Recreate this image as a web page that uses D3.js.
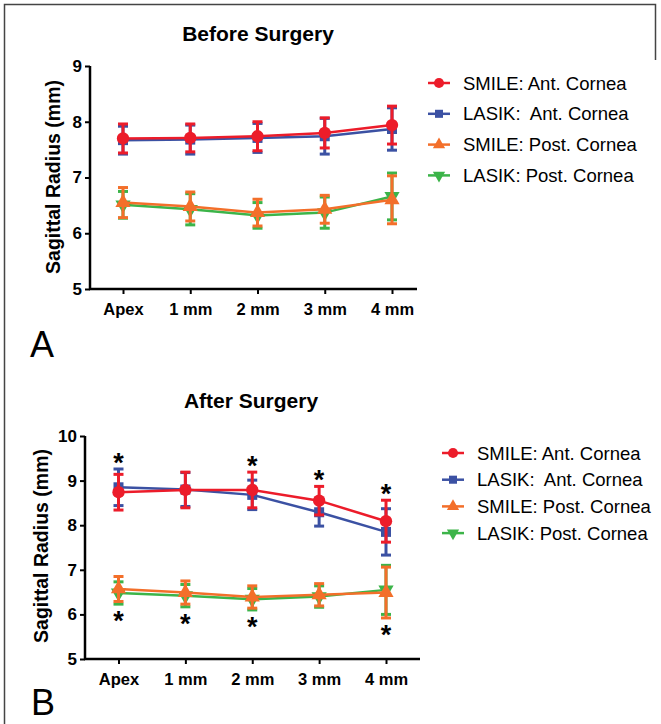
<!DOCTYPE html>
<html>
<head>
  <meta charset="utf-8">
  <title>Sagittal Radius</title>
  <style>
    body { margin: 0; background: #fff; }
    svg text { font-family: "Liberation Sans", Arial, sans-serif; }
  </style>
</head>
<body>
<script src="https://cdnjs.cloudflare.com/ajax/libs/d3/7.8.5/d3.min.js"></script>
<script>
var w = 661, h = 724;

var categories = ["Apex", "1 mm", "2 mm", "3 mm", "4 mm"];
var seriesNames = ["SMILE: Ant. Cornea", "LASIK:  Ant. Cornea", "SMILE: Post. Cornea", "LASIK: Post. Cornea"];

// before surgery: means and error bars
var smileAntBefore   = [7.70, 7.71, 7.74, 7.80, 7.94];
var smileAntBeforeE  = [0.26, 0.25, 0.26, 0.27, 0.34];
var lasikAntBefore   = [7.67, 7.68, 7.71, 7.74, 7.87];
var lasikAntBeforeE  = [0.25, 0.26, 0.26, 0.32, 0.38];
var smilePostBefore  = [6.55, 6.48, 6.37, 6.43, 6.60];
var smilePostBeforeE = [0.27, 0.26, 0.24, 0.25, 0.43];
var lasikPostBefore  = [6.51, 6.43, 6.32, 6.37, 6.66];
var lasikPostBeforeE = [0.24, 0.28, 0.23, 0.28, 0.42];

// after surgery
var smileAntAfter   = [8.74, 8.79, 8.79, 8.55, 8.09];
var smileAntAfterE  = [0.40, 0.40, 0.40, 0.32, 0.47];
var lasikAntAfter   = [8.85, 8.80, 8.68, 8.29, 7.85];
var lasikAntAfterE  = [0.41, 0.38, 0.33, 0.31, 0.52];
var smilePostAfter  = [6.57, 6.49, 6.39, 6.44, 6.49];
var smilePostAfterE = [0.28, 0.26, 0.25, 0.25, 0.57];
var lasikPostAfter  = [6.48, 6.42, 6.34, 6.40, 6.55];
var lasikPostAfterE = [0.25, 0.25, 0.24, 0.24, 0.55];

// significance stars (1 = star) for anterior (above) and posterior (below)
var starsAntAfter  = [1, 0, 1, 1, 1];
var starsPostAfter = [1, 1, 1, 0, 1];

var yTicksBefore = [5, 6, 7, 8, 9];
var yTicksAfter  = [5, 6, 7, 8, 9, 10];

var colors = ["#ec1c2a", "#3b51a3", "#f36f2a", "#3cb449"];
var symbols = [d3.symbolCircle, d3.symbolSquare, d3.symbolTriangle, d3.symbolTriangle];
var drawOrder = [3, 1, 2, 0]; // red and orange sit on top

var svg = d3.select("body").append("svg")
  .attr("width", w)
  .attr("height", h);

// frame of the figure
svg.append("path")
  .attr("d", "M4.5," + h + "V4.5H655.5V60")
  .attr("fill", "none")
  .attr("stroke", "#444")
  .attr("stroke-width", 1.5);

function markerPath(i, size) {
  return d3.symbol().type(symbols[i]).size(size)();
}

function drawPanel(p) {
  var g = svg.append("g");
  var x = d3.scalePoint().domain(categories).range(p.xRange);
  var y = d3.scaleLinear().domain(p.yDomain).range(p.yRange);

  // title
  g.append("text")
    .attr("x", p.titleX).attr("y", p.titleY)
    .attr("text-anchor", "middle")
    .attr("font-size", 21).attr("font-weight", "bold")
    .text(p.title);

  // y axis
  var yAxis = g.append("g")
    .attr("transform", "translate(" + p.axisX + ",0)")
    .call(d3.axisLeft(y).tickValues(p.yTicks).tickSize(5).tickPadding(3).tickFormat(d3.format("d")));
  yAxis.select(".domain").attr("stroke-width", 2.5).attr("d", "M0," + p.yRange[0] + "V" + p.yRange[1]);
  yAxis.selectAll(".tick line").attr("stroke-width", 2);
  yAxis.selectAll(".tick text")
    .attr("font-size", 17).attr("font-weight", "bold").attr("fill", "#000")
    .attr("font-family", "'Liberation Sans', Arial, sans-serif");

  // x axis
  var xAxis = g.append("g")
    .attr("transform", "translate(0," + p.yRange[0] + ")")
    .call(d3.axisBottom(x).tickSize(5).tickPadding(9));
  xAxis.select(".domain").attr("stroke-width", 2.5).attr("d", "M" + (p.axisX - 1) + ",0H" + p.axisEnd);
  xAxis.selectAll(".tick line").attr("stroke-width", 2);
  xAxis.selectAll(".tick text")
    .attr("font-size", 16.5).attr("font-weight", "bold").attr("fill", "#000")
    .attr("font-family", "'Liberation Sans', Arial, sans-serif");

  // y label
  g.append("text")
    .attr("transform", "translate(" + p.labelX + "," + p.labelY + ") rotate(-90)")
    .attr("text-anchor", "middle")
    .attr("font-size", 19.5).attr("font-weight", "bold")
    .text("Sagittal Radius (mm)");

  // series
  var line = d3.line()
    .x(function(d, i) { return x(categories[i]); })
    .y(function(d) { return y(d); });

  drawOrder.forEach(function(s) {
    var vals = p.values[s], errs = p.errors[s];
    var sg = g.append("g").attr("stroke", colors[s]).attr("fill", colors[s]);

    sg.append("path").datum(vals)
      .attr("d", line).attr("fill", "none").attr("stroke-width", 2.5);

    var bars = sg.selectAll(".err").data(vals).enter().append("g");
    bars.append("line")
      .attr("x1", function(d, i) { return x(categories[i]); })
      .attr("x2", function(d, i) { return x(categories[i]); })
      .attr("y1", function(d, i) { return y(d + errs[i]); })
      .attr("y2", function(d, i) { return y(d - errs[i]); })
      .attr("stroke-width", 3);
    [1, -1].forEach(function(sign) {
      bars.append("line")
        .attr("x1", function(d, i) { return x(categories[i]) - 5; })
        .attr("x2", function(d, i) { return x(categories[i]) + 5; })
        .attr("y1", function(d, i) { return y(d + sign * errs[i]); })
        .attr("y2", function(d, i) { return y(d + sign * errs[i]); })
        .attr("stroke-width", 3);
    });

    sg.selectAll(".pt").data(vals).enter().append("path")
      .attr("d", markerPath(s, s == 0 ? 120 : 100))
      .attr("stroke", "none")
      .attr("transform", function(d, i) {
        return "translate(" + x(categories[i]) + "," + y(d) + ")" + (s == 3 ? " rotate(180)" : "");
      });
  });

  // asterisks, centred about 11px beyond the outer error bar
  if (p.starsAbove) {
    categories.forEach(function(c, i) {
      if (!p.starsAbove[i]) return;
      var top = Math.max(p.values[0][i] + p.errors[0][i], p.values[1][i] + p.errors[1][i]);
      g.append("text").attr("x", x(c)).attr("y", y(top) - 12 + 15)
        .attr("text-anchor", "middle").attr("font-size", 27).attr("font-weight", "bold").text("*");
    });
    categories.forEach(function(c, i) {
      if (!p.starsBelow[i]) return;
      var bot = Math.min(p.values[2][i] - p.errors[2][i], p.values[3][i] - p.errors[3][i]);
      g.append("text").attr("x", x(c)).attr("y", y(bot) + 11 + 15)
        .attr("text-anchor", "middle").attr("font-size", 27).attr("font-weight", "bold").text("*");
    });
  }

  // legend
  var lg = g.append("g");
  seriesNames.forEach(function(name, s) {
    var ly = p.legendY + s * p.legendStep;
    lg.append("line")
      .attr("x1", p.legendX - 11).attr("x2", p.legendX + 11)
      .attr("y1", ly).attr("y2", ly)
      .attr("stroke", colors[s]).attr("stroke-width", 2.5);
    lg.append("path")
      .attr("d", markerPath(s, s == 0 ? 80 : 65))
      .attr("fill", colors[s])
      .attr("transform", "translate(" + p.legendX + "," + ly + ")" + (s == 3 ? " rotate(180)" : ""));
    lg.append("text")
      .attr("x", p.legendX + 24).attr("y", ly + 6.5)
      .attr("font-size", 18.5)
      .style("white-space", "pre")
      .text(name);
  });

  // panel letter
  g.append("text")
    .attr("x", p.letterX).attr("y", p.letterY)
    .attr("font-size", 36)
    .attr("font-family", "'DejaVu Sans', sans-serif")
    .text(p.letter);
}

drawPanel({
  title: "Before Surgery", titleX: 258, titleY: 41,
  xRange: [123, 392], yDomain: [5, 9], yRange: [289, 66], yTicks: yTicksBefore,
  axisX: 90, axisEnd: 417, labelX: 60, labelY: 177,
  values: [smileAntBefore, lasikAntBefore, smilePostBefore, lasikPostBefore],
  errors: [smileAntBeforeE, lasikAntBeforeE, smilePostBeforeE, lasikPostBeforeE],
  legendX: 439, legendY: 83, legendStep: 30.8,
  letter: "A", letterX: 30, letterY: 357
});

drawPanel({
  title: "After Surgery", titleX: 251, titleY: 408,
  xRange: [118.5, 386], yDomain: [5, 10], yRange: [659, 436], yTicks: yTicksAfter,
  axisX: 85, axisEnd: 420, labelX: 48, labelY: 546,
  values: [smileAntAfter, lasikAntAfter, smilePostAfter, lasikPostAfter],
  errors: [smileAntAfterE, lasikAntAfterE, smilePostAfterE, lasikPostAfterE],
  starsAbove: starsAntAfter, starsBelow: starsPostAfter,
  legendX: 453, legendY: 453, legendStep: 26.7,
  letter: "B", letterX: 31, letterY: 715
});
</script>
</body>
</html>
